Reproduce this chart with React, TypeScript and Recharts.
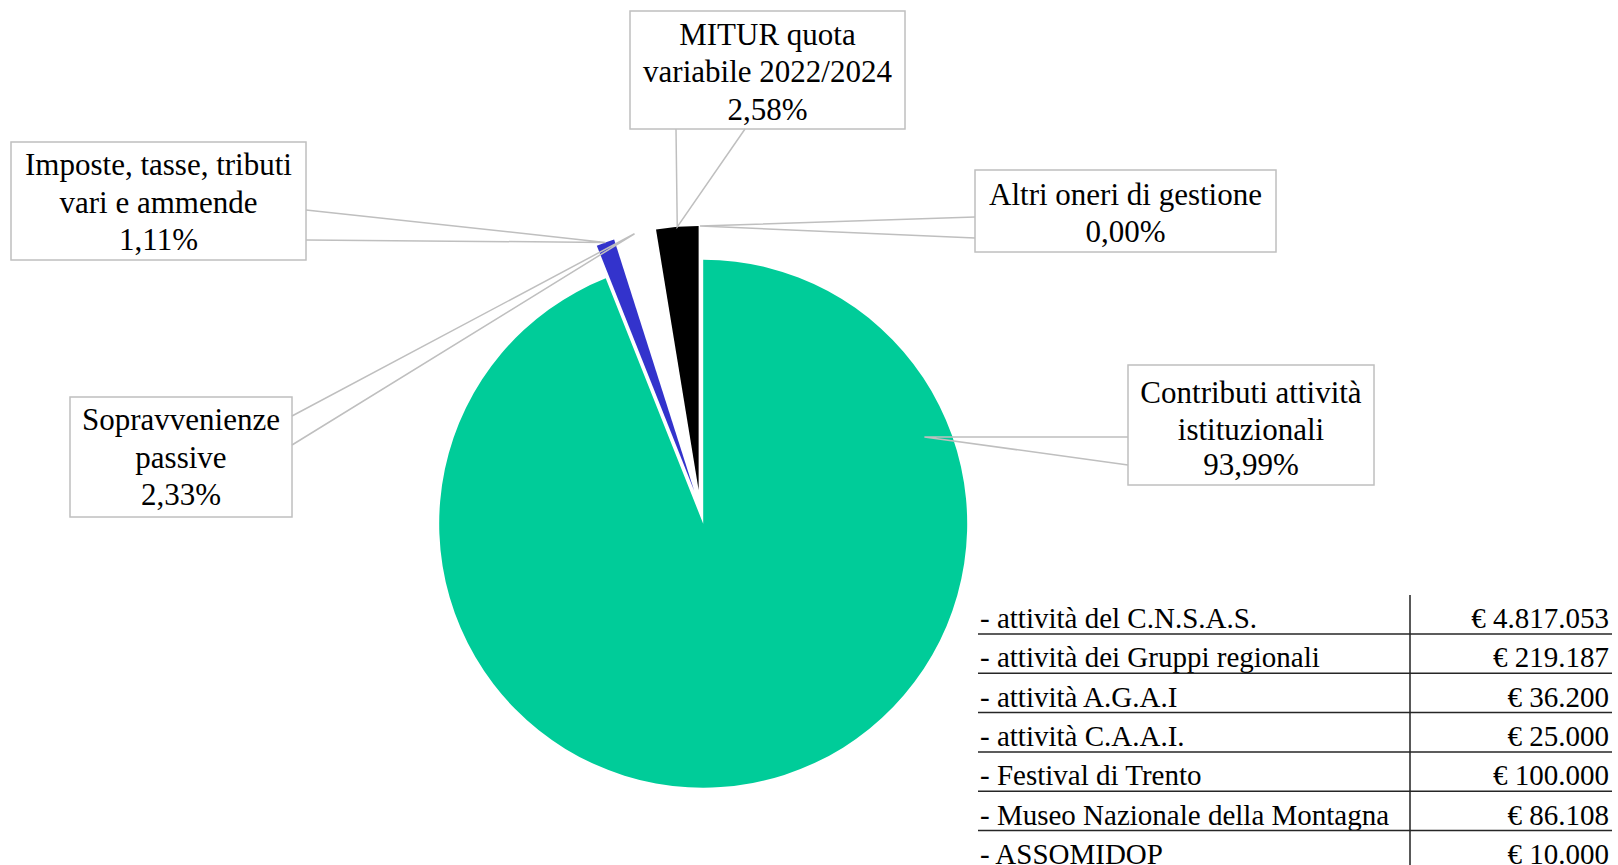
import React from 'react';
import { PieChart, Pie, Cell } from 'recharts';

// slices, clockwise from 12 o'clock
const categories = [
  'Contributi attività\nistituzionali',
  'Imposte, tasse, tributi\nvari e ammende',
  'Sopravvenienze\npassive',
  'MITUR quota\nvariabile 2022/2024',
  'Altri oneri di gestione',
];
const shares = [93.99, 1.11, 2.33, 2.58, 0.0];

// table next to the pie
const tableItems = [
  '- attività del C.N.S.A.S.',
  '- attività dei Gruppi regionali',
  '- attività A.G.A.I',
  '- attività C.A.A.I.',
  '- Festival di Trento',
  '- Museo Nazionale della Montagna',
  '- ASSOMIDOP',
];
const tableAmounts = [4817053, 219187, 36200, 25000, 100000, 86108, 10000];

const COLORS = ['#00CC99', '#3333CC', '#FFFFFF', '#000000', '#FFFFFF'];
const FONT = "'Liberation Serif', 'Times New Roman', serif";
const LEADER = '#BFBFBF';

const W = 1618;
const H = 865;
const CX = 700;
const CY = 507;
const R = 264;
const EXPLODE = 17;
const RAD = Math.PI / 180;

// label boxes (layout only)
const callouts = [
  { box: [1128, 365, 246, 120], lines: [393, 430, 465], edge: [[1128, 437], [1128, 465]], anchorAngle: 21.4, anchorR: 0.9 },
  { box: [11, 142, 295, 118], lines: [165, 203, 240], edge: [[306, 210], [306, 240]], anchorR: 1 },
  { box: [70, 397, 222, 120], lines: [420, 458, 495], edge: [[292, 416], [292, 445]], anchorR: 1 },
  { box: [630, 11, 275, 118], lines: [35, 72, 110], edge: [[676, 129], [745, 129]], anchorR: 1 },
  { box: [975, 170, 301, 82], lines: [195, 232], edge: [[975, 217], [975, 238]], anchorR: 1 },
];

const pieData = categories.map((name, i) => ({ name, value: shares[i] }));
const total = shares.reduce((a, b) => a + b, 0);

// explosion offset of each slice along its bisector
const offsets = shares.map((v, i) => {
  const before = shares.slice(0, i).reduce((a, b) => a + b, 0);
  const mid = ((before + v / 2) / total) * 360;
  return { dx: EXPLODE * Math.sin(mid * RAD), dy: -EXPLODE * Math.cos(mid * RAD) };
});

const fmtPct = (v: number) => v.toFixed(2).replace('.', ',') + '%';
const fmtEuro = (v: number) => '€ ' + String(v).replace(/\B(?=(\d{3})+(?!\d))/g, '.');

const renderCallout = (target: number) => (props: any) => {
  if (props.index !== target) return null;
  const c = callouts[target];
  const ang = c.anchorAngle !== undefined ? c.anchorAngle : props.midAngle;
  const r = props.outerRadius * c.anchorR;
  const ax = props.cx + Math.cos(-ang * RAD) * r;
  const ay = props.cy + Math.sin(-ang * RAD) * r;
  const [bx, by, bw, bh] = c.box;
  const textLines = [...String(props.name).split('\n'), fmtPct(props.value)];
  return (
    <g key={`callout-${target}`}>
      <rect x={bx} y={by} width={bw} height={bh} fill="#fff" stroke={LEADER} strokeWidth={1.5} />
      <polyline
        points={`${c.edge[0][0]},${c.edge[0][1]} ${ax},${ay} ${c.edge[1][0]},${c.edge[1][1]}`}
        fill="none"
        stroke={LEADER}
        strokeWidth={1.5}
      />
      {textLines.map((t, k) => (
        <text
          key={k}
          x={bx + bw / 2}
          y={c.lines[k] + 10}
          textAnchor="middle"
          fontFamily={FONT}
          fontSize={31}
          fill="#000"
        >
          {t}
        </text>
      ))}
    </g>
  );
};

const firstBaseline = 628;
const rowH = 39.3;

export default function App() {
  return (
    <div style={{ position: 'absolute', left: 0, top: 0, width: W, height: H, background: '#fff' }}>
      <PieChart width={W} height={H} margin={{ top: 0, right: 0, bottom: 0, left: 0 }}>
        {shares.map((_, i) => (
          <Pie
            key={i}
            data={pieData}
            dataKey="value"
            nameKey="name"
            cx={CX + offsets[i].dx}
            cy={CY + offsets[i].dy}
            outerRadius={R}
            startAngle={90}
            endAngle={-270}
            stroke="none"
            label={renderCallout(i)}
            labelLine={false}
            isAnimationActive={false}
          >
            {pieData.map((_, j) => (
              <Cell key={j} fill={j === i ? COLORS[j] : 'none'} />
            ))}
          </Pie>
        ))}
      </PieChart>

      <svg width={W} height={H} style={{ position: 'absolute', left: 0, top: 0 }}>
        <line x1={1410} y1={595} x2={1410} y2={H} stroke="#595959" strokeWidth={2} />
        {tableItems.map((item, i) => (
          <g key={item}>
            <text x={980} y={firstBaseline + i * rowH} fontFamily={FONT} fontSize={29} fill="#000">
              {item}
            </text>
            <text x={1609} y={firstBaseline + i * rowH} textAnchor="end" fontFamily={FONT} fontSize={29} fill="#000">
              {fmtEuro(tableAmounts[i])}
            </text>
            {i < tableItems.length - 1 && (
              <line
                x1={978}
                y1={firstBaseline + 6 + i * rowH}
                x2={1612}
                y2={firstBaseline + 6 + i * rowH}
                stroke="#262626"
                strokeWidth={1.5}
              />
            )}
          </g>
        ))}
      </svg>
    </div>
  );
}
